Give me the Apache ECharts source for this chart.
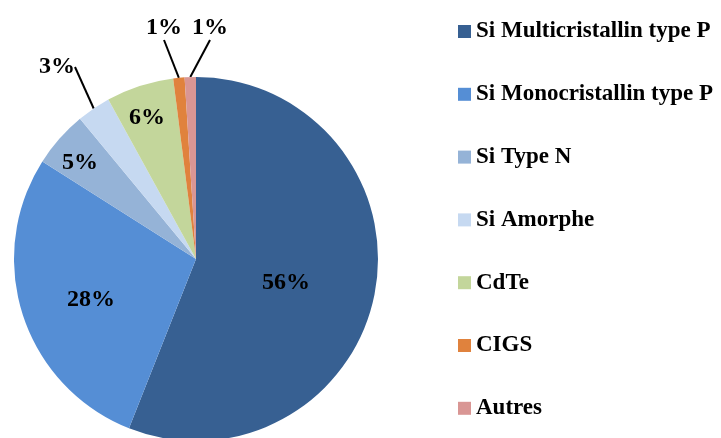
<!DOCTYPE html>
<html lang="fr">
<head>
    <meta charset="UTF-8">
    <title>Technologies PV</title>
    <script src="https://cdn.jsdelivr.net/npm/echarts@6/dist/echarts.min.js"></script>
    <style>
        html, body { margin: 0; padding: 0; background: #fff; }
    </style>
</head>
<body>
<div id="main" style="width: 721px;height:438px;"></div>
<script type="text/javascript">
    // categories et parts (%)
    var categories = ['Si Multicristallin type P', 'Si Monocristallin type P', 'Si Type N',
        'Si Amorphe', 'CdTe', 'CIGS', 'Autres'];
    var values = [56, 28, 5, 3, 6, 1, 1];
    var colors = ['#376092', '#558ed5', '#95b3d7', '#c6d9f1', '#c3d69b', '#e0823d', '#d99694'];
    // les petites parts ont leur étiquette à l'extérieur, reliée par un trait
    var outside = [false, false, false, true, false, true, true];
    // placement des étiquettes (centre du texte, en px)
    var labelPos = [[286, 283], [91, 300], [80, 163], [57, 67], [147, 118], [164, 28], [210, 28]];

    var font = '"Liberation Serif", "Times New Roman", serif';

    var data = [];
    for (var i = 0; i < categories.length; i++) {
        var item = {
            name: categories[i],
            value: values[i],
            itemStyle: { color: colors[i] }
        };
        if (outside[i]) {
            item.label = { position: 'outside' };
            item.labelLine = { show: true };
        }
        data.push(item);
    }

    var myChart = echarts.init(document.getElementById('main'));
    var option = {
        animation: false,
        legend: {
            orient: 'vertical',
            left: 453,
            top: 15,
            itemWidth: 13,
            itemHeight: 13,
            itemGap: 39.8,
            icon: 'rect',
            textStyle: {
                fontFamily: font,
                fontWeight: 'bold',
                fontSize: 23,
                color: '#000'
            },
            data: categories
        },
        series: [{
            type: 'pie',
            center: [196, 259],
            radius: 182,
            startAngle: 90,
            clockwise: true,
            avoidLabelOverlap: false,
            itemStyle: { borderWidth: 0 },
            label: {
                position: 'inside',
                formatter: '{c}%',
                fontFamily: font,
                fontWeight: 'bold',
                fontSize: 24,
                color: '#000'
            },
            labelLine: {
                show: false,
                length: 30,
                length2: 0,
                lineStyle: { color: '#000', width: 2 }
            },
            labelLayout: function (params) {
                var p = labelPos[params.dataIndex];
                return {
                    x: p[0],
                    y: p[1],
                    align: 'center',
                    verticalAlign: 'middle',
                    hideOverlap: false
                };
            },
            data: data
        }]
    };
    myChart.setOption(option);
</script>
</body>
</html>
